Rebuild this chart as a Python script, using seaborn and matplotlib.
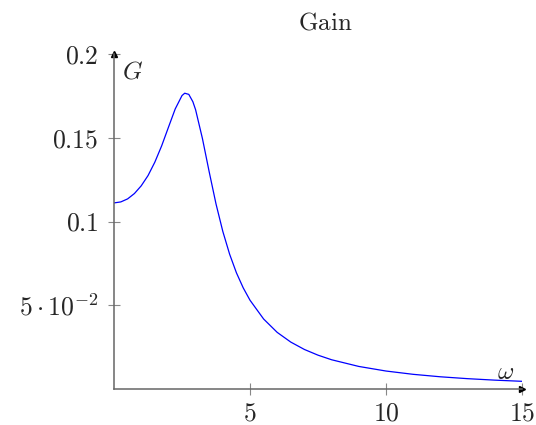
import matplotlib
matplotlib.use("Agg")
import matplotlib.pyplot as plt
import seaborn as sns
import pandas as pd

# values
omega = [0, 0.25, 0.5, 0.75, 1.0, 1.25, 1.5, 1.75, 2.0, 2.25, 2.5, 2.6, 2.75,
         2.9, 3.0, 3.25, 3.5, 3.75, 4.0, 4.25, 4.5, 4.75, 5, 5.5, 6, 6.5, 7,
         7.5, 8, 9, 10, 11, 12, 13, 14, 15]
gain = [0.1111, 0.1117, 0.1135, 0.1167, 0.1213, 0.1274, 0.1354, 0.1451,
        0.1562, 0.1672, 0.1752, 0.1766, 0.1759, 0.1715, 0.1667, 0.1496,
        0.1296, 0.1105, 0.0941, 0.0805, 0.0694, 0.0604, 0.0530, 0.0418,
        0.0338, 0.0280, 0.0236, 0.0202, 0.01746, 0.01347, 0.01073, 0.00876,
        0.00729, 0.00617, 0.00529, 0.00459]
x_ticks = [5, 10, 15]
x_labels = ["$5$", "$10$", "$15$"]
y_ticks = [0.05, 0.1, 0.15, 0.2]
y_labels = [r"$5\cdot10^{-2}$", "$0.1$", "$0.15$", "$0.2$"]

sns.set_theme(style="white")
plt.rcParams["font.family"] = ["cmr10", "DejaVu Serif"]
plt.rcParams["mathtext.fontset"] = "cm"
plt.rcParams["axes.unicode_minus"] = False

df = pd.DataFrame({"omega": omega, "G": gain})

fig = plt.figure(figsize=(5.36, 4.25), dpi=100)
ax = fig.add_axes([0.2127, 0.0847, 0.7612, 0.7882])
sns.lineplot(data=df, x="omega", y="G", color="#0000ff", linewidth=0.9, ax=ax)

ax.set_xlim(0, 15)
ax.set_ylim(0, 0.2)
for s in ["top", "right"]:
    ax.spines[s].set_visible(False)
for s in ["left", "bottom"]:
    ax.spines[s].set_color("#666666")
    ax.spines[s].set_linewidth(1.1)

ax.set_xticks(x_ticks)
ax.set_xticklabels(x_labels, fontsize=18.5)
ax.set_yticks(y_ticks)
ax.set_yticklabels(y_labels, fontsize=18.5)
ax.tick_params(bottom=True, left=True, direction="inout", length=8,
               width=0.8, color="#888888")
ax.tick_params(axis="x", pad=5)
ax.tick_params(axis="y", pad=7)

# arrow heads at axis ends
ax.plot(1, 0, ">", color="black", ms=4, transform=ax.get_yaxis_transform(), clip_on=False)
ax.plot(0, 1, "^", color="black", ms=4, transform=ax.get_xaxis_transform(), clip_on=False)

ax.set_xlabel("")
ax.set_ylabel("")
ax.text(0.3, 0.189, "$G$", fontsize=18, ha="left", va="center")
ax.text(14.4, 0.0095, r"$\omega$", fontsize=18, ha="center", va="center")

fig.text(0.606, 0.93, r"$\mathrm{Gain}$", fontsize=18, ha="center", va="baseline")

fig.savefig("out.png", dpi=100)
